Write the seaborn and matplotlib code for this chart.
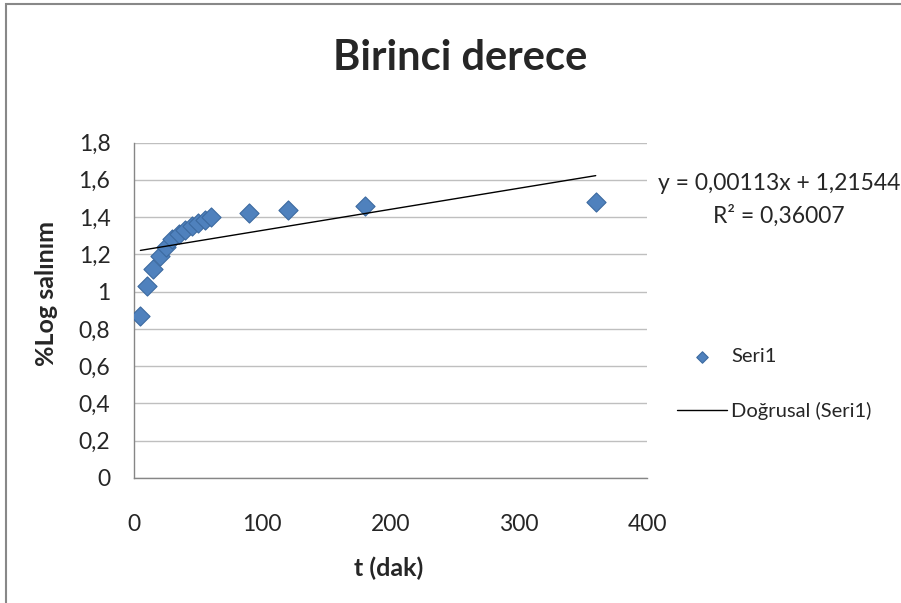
import numpy as np
import pandas as pd
import matplotlib
matplotlib.use("Agg")
import matplotlib.pyplot as plt
import matplotlib.patches as mpatches
import seaborn as sns

# datos
t_dak = [5, 10, 15, 20, 25, 30, 35, 40, 45, 50, 55, 60, 90, 120, 180, 360]
log_salinim = [0.87, 1.03, 1.12, 1.19, 1.24, 1.28, 1.31, 1.33, 1.35, 1.37,
               1.385, 1.40, 1.42, 1.44, 1.46, 1.48]

# linea de tendencia (ecuacion mostrada en el grafico)
egim = 0.00113
kesisim = 1.21544
r2 = 0.36007

y_ticks = [0, 0.2, 0.4, 0.6, 0.8, 1.0, 1.2, 1.4, 1.6, 1.8]
y_tick_labels = ['0', '0,2', '0,4', '0,6', '0,8', '1', '1,2', '1,4', '1,6', '1,8']
x_ticks = [0, 100, 200, 300, 400]

df = pd.DataFrame({'t': t_dak, 'y': log_salinim})
trend = pd.DataFrame({'t': [min(t_dak), max(t_dak)]})
trend['y'] = kesisim + egim * trend['t']

sns.set_style("white")
plt.rcParams['font.family'] = ['Lato', 'DejaVu Sans']

fig = plt.figure(figsize=(9.01, 6.03), dpi=100)
ax = fig.add_axes([134 / 901, 1 - 478 / 603, 513 / 901, 335.5 / 603])

sns.scatterplot(data=df, x='t', y='y', marker='D', s=95, color='#4F81BD',
                edgecolor='#3C6AA0', linewidth=0.8, label='Seri1', ax=ax, zorder=3)
sns.lineplot(data=trend, x='t', y='y', color='black', linewidth=1,
             label='Doğrusal (Seri1)', ax=ax, zorder=4)

ax.set_xlim(0, 400)
ax.set_ylim(0, 1.8)
ax.set_xticks(x_ticks)
ax.set_yticks(y_ticks)
ax.set_yticklabels(y_tick_labels)
ax.tick_params(axis='y', length=4, width=1, color='#868686', pad=13, labelsize=16.5)
ax.tick_params(axis='x', length=0, pad=26, labelsize=16.5)
ax.grid(axis='y', color='#BFBFBF', linewidth=1)
for s in ['top', 'right']:
    ax.spines[s].set_visible(False)
for s in ['left', 'bottom']:
    ax.spines[s].set_color('#868686')
    ax.spines[s].set_linewidth(1)

ax.set_xlabel('t (dak)', fontsize=18, fontweight='bold')
ax.set_ylabel('%Log salınım', fontsize=18, fontweight='bold')
ax.xaxis.label.set_va('center')
ax.xaxis.set_label_coords((389 - 134) / 513, (478 - 568) / 335.5)
ax.yaxis.label.set_va('center')
ax.yaxis.set_label_coords((47 - 134) / 513, (478 - 293) / 335.5)

fig.suptitle('Birinci derece', x=460 / 901, y=1 - 58 / 603, va='center',
             fontsize=30, fontweight='bold')

fig.text(658 / 901, 1 - 184 / 603, 'y = 0,00113x + 1,21544', fontsize=16.5,
         ha='left', va='center')
fig.text(779 / 901, 1 - 216 / 603, 'R² = 0,36007', fontsize=16.5,
         ha='center', va='center')

ax.legend(loc='upper left', bbox_to_anchor=(677 / 901, 1 - 348 / 603),
          bbox_transform=fig.transFigure, frameon=False, fontsize=14.5,
          handlelength=2.5, handletextpad=0.2, labelspacing=1.85,
          borderpad=0, borderaxespad=0, markerscale=0.6)

# marco del grafico
fig.patches.append(mpatches.Rectangle((6 / 901, -0.1), 1.2, 1.1 - 4 / 603,
                                      transform=fig.transFigure, fill=False,
                                      edgecolor='#888888', linewidth=1.5))

fig.savefig('out.png', dpi=100)
